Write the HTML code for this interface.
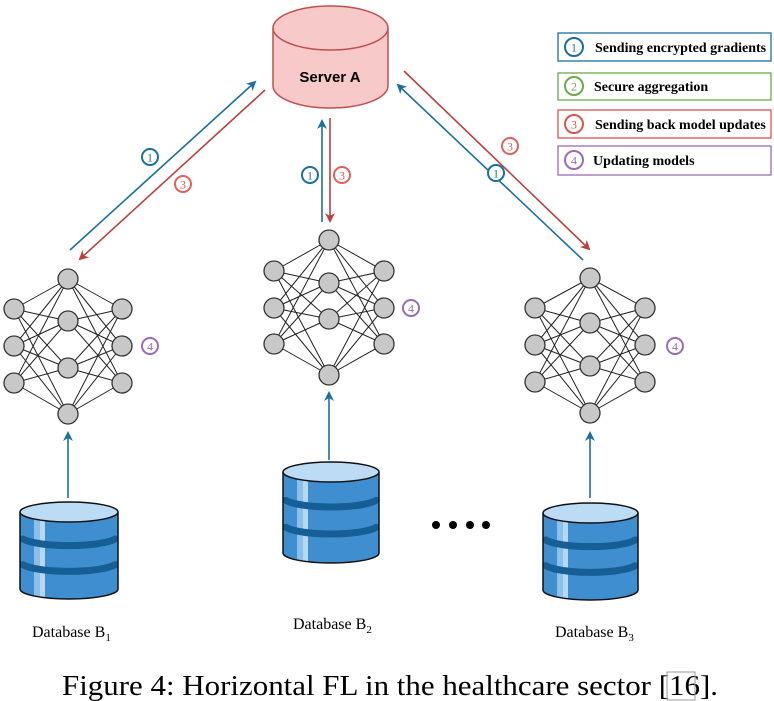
<!DOCTYPE html>
<html><head><meta charset="utf-8"><style>
html,body{margin:0;padding:0;background:#fff;}
svg{display:block;}
.lg{font-family:"Liberation Serif",serif;font-weight:bold;font-size:14px;}
.db{font-family:"Liberation Serif",serif;font-size:16px;}
</style></head><body>
<svg id="s" width="774" height="701" viewBox="0 0 774 701" xmlns="http://www.w3.org/2000/svg">
<defs>
<marker id="ab" markerWidth="10" markerHeight="10" refX="8" refY="5" orient="auto" markerUnits="userSpaceOnUse"><path d="M0,0 L10,5 L0,10 L3,5 z" fill="#1a6fa0"/></marker>
<marker id="ar" markerWidth="10" markerHeight="10" refX="8" refY="5" orient="auto" markerUnits="userSpaceOnUse"><path d="M0,0 L10,5 L0,10 L3,5 z" fill="#b8413b"/></marker>
</defs>
<!-- server -->
<path d="M273,28 L273,86 A57.5,22 0 0 0 388,86 L388,28" fill="#f7c9c9" stroke="#c0504d" stroke-width="1.5"/>
<ellipse cx="330.5" cy="28" rx="57.5" ry="22" fill="#f7c9c9" stroke="#c0504d" stroke-width="1.5"/>
<text x="330" y="82" text-anchor="middle" font-family="Liberation Sans,sans-serif" font-weight="bold" font-size="15">Server A</text>
<!-- arrows -->
<g stroke-width="1.6" fill="none">
<line x1="70" y1="250" x2="255" y2="82" stroke="#1a6fa0" marker-end="url(#ab)"/>
<line x1="265" y1="90" x2="80" y2="259" stroke="#b8413b" marker-end="url(#ar)"/>
<line x1="322" y1="222" x2="322" y2="121" stroke="#1a6fa0" marker-end="url(#ab)"/>
<line x1="330" y1="118" x2="330" y2="221" stroke="#b8413b" marker-end="url(#ar)"/>
<line x1="583" y1="260" x2="398" y2="85" stroke="#1a6fa0" marker-end="url(#ab)"/>
<line x1="404" y1="71" x2="589" y2="249" stroke="#b8413b" marker-end="url(#ar)"/>
<line x1="68" y1="498" x2="68" y2="433" stroke="#1a6fa0" marker-end="url(#ab)"/>
<line x1="329" y1="460" x2="329" y2="393" stroke="#1a6fa0" marker-end="url(#ab)"/>
<line x1="590" y1="498" x2="590" y2="433" stroke="#1a6fa0" marker-end="url(#ab)"/>
</g>
<g id="nets"></g>
<g id="dbs"></g>
<!-- legend -->
<g fill="#fff" stroke-width="1.3">
<rect x="558" y="33" width="213" height="28" stroke="#1a6fa0"/>
<rect x="558" y="73" width="213" height="27" stroke="#6aaa4a"/>
<rect x="558" y="110" width="213" height="28" stroke="#d9534f"/>
<rect x="558" y="146" width="213" height="29" stroke="#9b6bb5"/>
</g>
<text class="lg" x="595" y="52">Sending encrypted gradients</text>
<text class="lg" x="594" y="91">Secure aggregation</text>
<text class="lg" x="595" y="129">Sending back model updates</text>
<text class="lg" x="593" y="165">Updating models</text>
<g id="circ"></g>
<g fill="#000"><circle cx="436" cy="525" r="4"/><circle cx="453" cy="525" r="4"/><circle cx="470" cy="525" r="4"/><circle cx="486" cy="525" r="4"/></g>
<text class="db" x="32" y="637">Database B<tspan font-size="11" dy="4">1</tspan></text>
<text class="db" x="293" y="629">Database B<tspan font-size="11" dy="4">2</tspan></text>
<text class="db" x="555" y="637">Database B<tspan font-size="11" dy="4">3</tspan></text>
<text x="62" y="695" textLength="656" lengthAdjust="spacingAndGlyphs" font-family="Liberation Serif,serif" font-size="29">Figure 4: Horizontal FL in the healthcare sector [16].</text>
<rect x="667" y="672" width="28" height="28" fill="none" stroke="#999" stroke-width="1"/>
</svg>
<script>
const NS="http://www.w3.org/2000/svg";
function el(p,t,a,txt){const e=document.createElementNS(NS,t);for(const k in a)e.setAttribute(k,a[k]);if(txt)e.textContent=txt;p.appendChild(e);return e;}
const nets=document.getElementById('nets');
function net(cx,top,dl,mids,sides){
 const L=sides.map(y=>[cx-dl,y]),R=sides.map(y=>[cx+dl,y]);
 const M=[[cx,top],...mids.map(y=>[cx,y]),[cx,top+135]];
 for(const a of L)for(const b of M)el(nets,'line',{x1:a[0],y1:a[1],x2:b[0],y2:b[1],stroke:'#222','stroke-width':1});
 for(const a of R)for(const b of M)el(nets,'line',{x1:a[0],y1:a[1],x2:b[0],y2:b[1],stroke:'#222','stroke-width':1});
 for(const p of [...L,...R,...M])el(nets,'circle',{cx:p[0],cy:p[1],r:10,fill:'#c8c8c8',stroke:'#333','stroke-width':1.3});
}
net(68,279,54,[321,368],[309,346,383]);
net(329,240,55,[283,319],[271,308,344]);
net(590,278,55,[323,366],[308,345,382]);
const dbs=document.getElementById('dbs');
let cid=0;
function db(x,w,top,h){
 const rx=w/2,ry=10,cx=x+rx,b=top+h;
 const id='cl'+(cid++);
 const cp=el(dbs,'clipPath',{id:id});
 el(cp,'path',{d:`M${x},${top} L${x},${b} A${rx},${ry} 0 0 0 ${x+w},${b} L${x+w},${top} z`});
 const g=el(dbs,'g',{'clip-path':`url(#${id})`});
 el(g,'rect',{x:x,y:top,width:w,height:h+ry+2,fill:'#3f8fd0'});
 el(g,'rect',{x:x+14,y:top,width:6,height:h+12,fill:'#8cc0ea'});
 el(g,'rect',{x:x+20,y:top,width:5,height:h+12,fill:'#b7d8f2'});
 const s=h/3;
 for(let i=1;i<3;i++)el(g,'path',{d:`M${x},${top+s*i-2} A${rx},${ry} 0 0 0 ${x+w},${top+s*i-2}`,fill:'none',stroke:'#155f96','stroke-width':7});
 el(dbs,'path',{d:`M${x},${top} L${x},${b} A${rx},${ry} 0 0 0 ${x+w},${b} L${x+w},${top}`,fill:'none',stroke:'#111','stroke-width':1.5});
 el(dbs,'ellipse',{cx:cx,cy:top,rx:rx,ry:ry,fill:'#bcdcf5',stroke:'#111','stroke-width':1.5});
}
db(20,98,512,77);
db(283,96,472,81);
db(543,95,513,77);
const c=document.getElementById('circ');
function cn(x,y,col,n,r){el(c,'circle',{cx:x,cy:y,r:r||8,fill:'#fff',stroke:col,'stroke-width':2});
 el(c,'text',{x:x,y:y+4.5,'text-anchor':'middle','font-family':'Liberation Serif,serif','font-size':12,fill:col},n);}
cn(150,157,'#1a6fa0','1');cn(183,184,'#e0605a','3');
cn(310,175,'#1a6fa0','1');cn(342,175,'#e0605a','3');
cn(510,146,'#e0605a','3');cn(496,173,'#1a6fa0','1');
cn(150,346,'#9b6bb5','4');cn(411,308,'#9b6bb5','4');cn(675,346,'#9b6bb5','4');
cn(574,47,'#1a6fa0','1',9);cn(574,86,'#6aaa4a','2',9);cn(574,124,'#d9534f','3',9);cn(574,160,'#9b6bb5','4',9);
</script>
</body></html>
